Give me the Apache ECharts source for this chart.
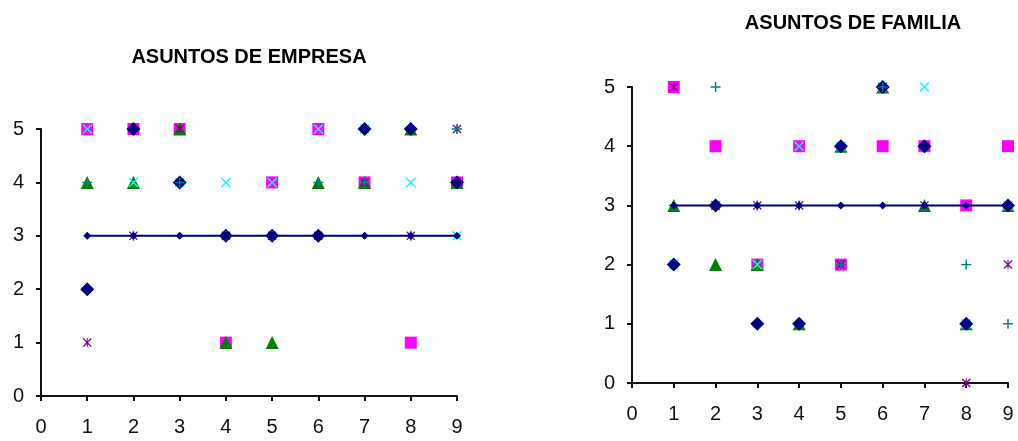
<!DOCTYPE html>
<html>
<head>
<meta charset="utf-8">
<script src="https://cdn.jsdelivr.net/npm/echarts@6/dist/echarts.min.js"></script>
<style>
  html, body { margin: 0; padding: 0; background: #fff; }
  #chart { width: 1018px; height: 441px; }
</style>
</head>
<body>
<div id="chart"></div>
<script>
// Question numbers along the x axis
const questions = [1, 2, 3, 4, 5, 6, 7, 8, 9];
const xTicks = [0, 1, 2, 3, 4, 5, 6, 7, 8, 9];
const yTicks = [0, 1, 2, 3, 4, 5];

// ASUNTOS DE EMPRESA: one answer per respondent and question
const empresaA = [2, 5, 4, 3, 3, 3, 5, 5, 4];   // diamond
const empresaB = [5, 5, 5, 1, 4, 5, 4, 1, 4];   // square
const empresaC = [4, 4, 5, 1, 1, 4, 4, 5, 4];   // triangle
const empresaD = [5, 4, 4, 4, 4, 5, 5, 4, 3];   // x
const empresaE = [1, 3, 5, 3, 3, 3, 4, 3, 5];   // asterisk
const empresaF = [4, 3, 4, 3, 3, 4, 4, 3, 5];   // plus
const empresaMedia = [3, 3, 3, 3, 3, 3, 3, 3, 3];

// ASUNTOS DE FAMILIA
const familiaA = [2, 3, 1, 1, 4, 5, 4, 1, 3];
const familiaB = [5, 4, 2, 4, 2, 4, 4, 3, 4];
const familiaC = [3, 2, 2, 1, 4, 5, 3, 1, 3];
const familiaD = [2, 3, 2, 4, 4, 5, 5, 1, 3];
const familiaE = [5, 3, 3, 3, 2, 5, 3, 0, 2];
const familiaF = [3, 5, 3, 3, 2, 5, 3, 2, 1];
const familiaMedia = [3, 3, 3, 3, 3, 3, 3, 3, 3];

const SYM_X = 'path://M1,0L5,4L9,0L10,1L6,5L10,9L9,10L5,6L1,10L0,9L4,5L0,1Z';
const SYM_PLUS = 'path://M4.3,0H5.7V4.3H10V5.7H5.7V10H4.3V5.7H0V4.3H4.3Z';
const SYM_STAR = 'path://M1,0L5,4L9,0L10,1L6,5L10,9L9,10L5,6L1,10L0,9L4,5L0,1Z M4.4,0H5.6V10H4.4Z';

const pts = (vals) => questions.map((q, i) => [q, vals[i]]);

function seriesFor(idx, sets) {
  const [A, B, C, D, E, F, M] = sets;
  const s = (data, symbol, size, color) => ({
    type: 'scatter', xAxisIndex: idx, yAxisIndex: idx,
    data: pts(data), symbol, symbolSize: size,
    itemStyle: { color, opacity: 1 }, silent: true
  });
  // drawing order, bottom to top
  return [
    s(B, 'rect', 12, '#FF00FF'),
    {
      type: 'line', xAxisIndex: idx, yAxisIndex: idx, data: pts(M),
      symbol: 'diamond', symbolSize: 8, showSymbol: true,
      lineStyle: { color: '#000080', width: 2 },
      itemStyle: { color: '#000080' }, silent: true
    },
    s(C, 'triangle', 13, '#008000'),
    s(D, SYM_X, 10, '#00FFFF'),
    s(E, SYM_STAR, 9, '#800080'),
    s(A, 'diamond', 14, '#000080'),
    s(F, SYM_PLUS, 10, '#008080')
  ];
}

const axisCommon = {
  type: 'value',
  axisLine: { show: true, lineStyle: { color: '#111', width: 2 } },
  axisTick: { show: true, inside: false, length: 5, lineStyle: { color: '#111', width: 2 } },
  splitLine: { show: false },
  axisLabel: { color: '#111', fontFamily: 'Liberation Sans, Arial, sans-serif', fontSize: 20 }
};

const mkX = (gi) => Object.assign({}, axisCommon, {
  gridIndex: gi, min: xTicks[0], max: xTicks[xTicks.length - 1], interval: 1,
  axisLabel: Object.assign({}, axisCommon.axisLabel, { margin: 21 })
});
const mkY = (gi) => Object.assign({}, axisCommon, {
  gridIndex: gi, min: yTicks[0], max: yTicks[yTicks.length - 1], interval: 1,
  axisLabel: Object.assign({}, axisCommon.axisLabel, { margin: 17 })
});

const titleStyle = { fontFamily: 'Liberation Sans, Arial, sans-serif', fontWeight: 'bold', fontSize: 20, color: '#000' };

const chart = echarts.init(document.getElementById('chart'));
chart.setOption({
  animation: false,
  backgroundColor: '#fff',
  title: [
    { text: 'ASUNTOS DE EMPRESA', left: 244, top: 42, textAlign: 'center', textStyle: titleStyle },
    { text: 'ASUNTOS DE FAMILIA', left: 848, top: 8, textAlign: 'center', textStyle: titleStyle }
  ],
  grid: [
    { left: 41, top: 129, width: 416, height: 267 },
    { left: 632, top: 87, width: 376, height: 296 }
  ],
  xAxis: [mkX(0), mkX(1)],
  yAxis: [mkY(0), mkY(1)],
  series: [].concat(
    seriesFor(0, [empresaA, empresaB, empresaC, empresaD, empresaE, empresaF, empresaMedia]),
    seriesFor(1, [familiaA, familiaB, familiaC, familiaD, familiaE, familiaF, familiaMedia])
  )
});
</script>
</body>
</html>
